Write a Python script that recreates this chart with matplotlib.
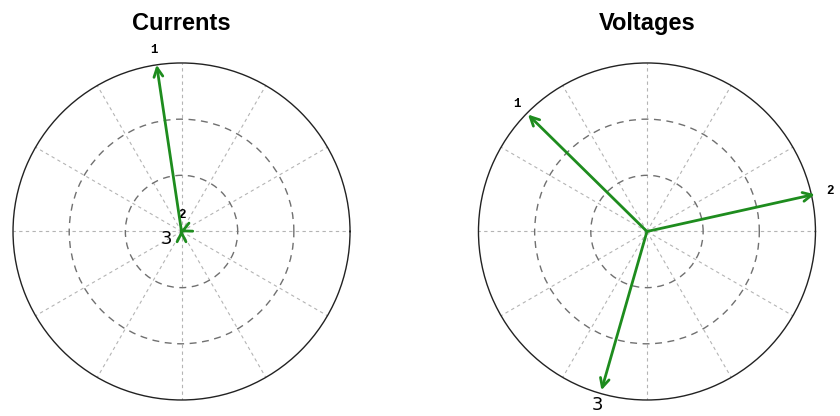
import numpy as np
import matplotlib
matplotlib.use("Agg")
import matplotlib.pyplot as plt

# Phasor data (per-unit magnitude, angle in degrees)
phase_labels = ["1", "2", "3"]
current_mag = [1.0, 0.01, 0.01]
current_ang = [98.5, 90.0, 205.0]
voltage_mag = [0.99, 1.02, 0.98]
voltage_ang = [135.5, 12.5, 254.0]

titles = ["Currents", "Voltages"]
arrow_color = "#1e8c1e"

fig = plt.figure(figsize=(8.4, 4.16), dpi=100)
positions = [[0.0155, 0.0385, 0.4012, 0.8101], [0.5696, 0.0385, 0.4012, 0.8101]]


def draw_phasors(ax, mags, angs, title):
    rmax = 1.0
    ax.set_ylim(0, rmax)
    ax.set_xticks(np.deg2rad(np.arange(0, 360, 30)))
    ax.set_yticks([rmax / 3, 2 * rmax / 3])
    ax.set_xticklabels([])
    ax.set_yticklabels([])
    ax.tick_params(length=0)
    ax.xaxis.grid(True, color="#b4b4b4", linestyle=(0, (3, 3)), linewidth=0.8)
    ax.yaxis.grid(True, color="#707070", linestyle=(0, (5, 4)), linewidth=1.0)
    ax.spines["polar"].set_color("#222222")
    ax.spines["polar"].set_linewidth(1.0)
    ax.set_title(title, fontsize=17, fontweight="bold",
                 fontfamily="Liberation Sans", pad=24)
    for lab, m, a in zip(phase_labels, mags, angs):
        th = np.deg2rad(a)
        ax.annotate("", xy=(th, m), xytext=(0, 0), annotation_clip=False,
                    arrowprops=dict(arrowstyle="->", color=arrow_color, lw=2,
                                    shrinkA=0, shrinkB=0, mutation_scale=16,
                                    clip_on=False),
                    zorder=5)
        d = 11
        off = (d * np.cos(th), d * np.sin(th))
        if lab == "3":
            fp = dict(fontsize=13, fontfamily="DejaVu Sans")
        else:
            fp = dict(fontsize=9, fontfamily="Liberation Mono", fontweight="bold")
        ax.annotate(lab, xy=(th, m), xytext=off, textcoords="offset points",
                    ha="center", va="center", annotation_clip=False, **fp)


for pos, t, mags, angs in zip(positions, titles,
                              [current_mag, voltage_mag],
                              [current_ang, voltage_ang]):
    ax = fig.add_axes(pos, projection="polar")
    draw_phasors(ax, mags, angs, t)

fig.savefig("out.png", dpi=100)
